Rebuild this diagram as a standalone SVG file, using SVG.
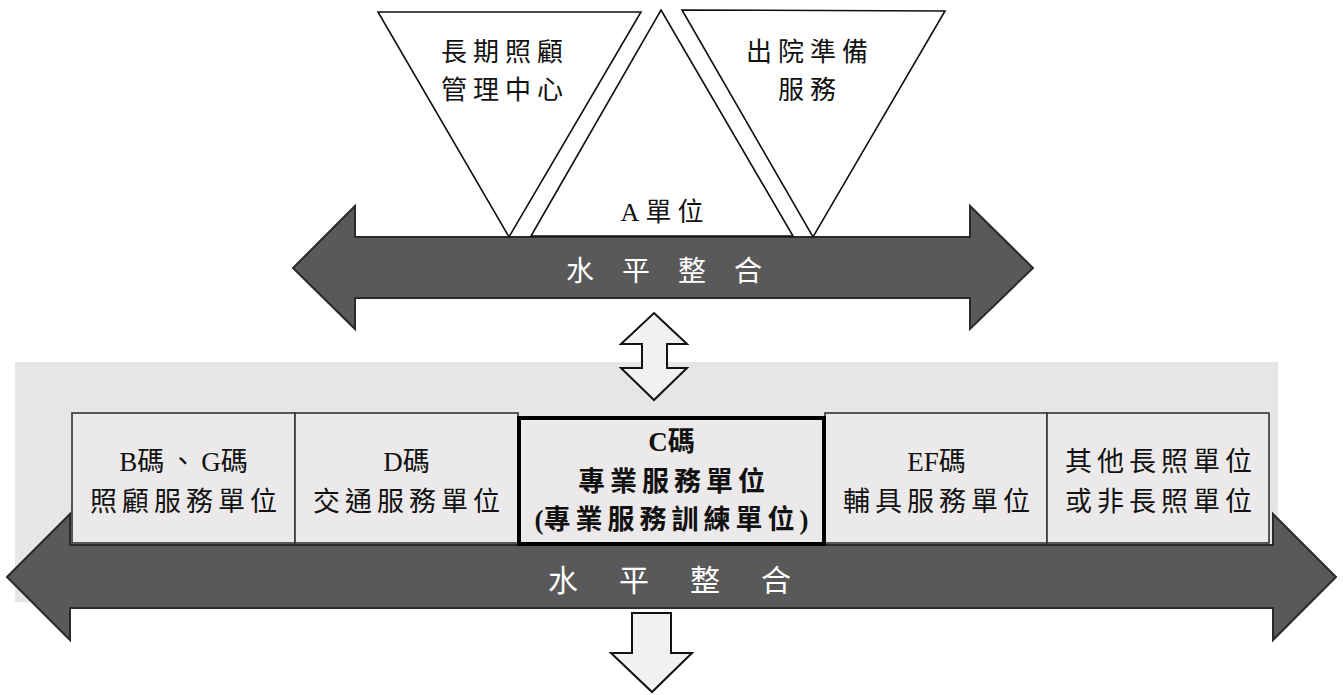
<svg xmlns="http://www.w3.org/2000/svg" width="1343" height="695" viewBox="0 0 1343 695">
<style>
.tri{fill:#ffffff;stroke:#111;stroke-width:1.6;stroke-linejoin:miter}
.big{fill:#595959;stroke:#2a2a2a;stroke-width:2}
.small{fill:#f1f1f1;stroke:#111;stroke-width:2;stroke-linejoin:miter}
.box{fill:#ebe9e9;stroke:#333;stroke-width:1.6}
.cbox{fill:#ebe9e9;stroke:#000;stroke-width:4}
.t{font-family:"Liberation Serif","Noto Sans CJK TC",serif;font-size:26px;fill:#111;text-anchor:middle;dominant-baseline:central}
.bt{font-family:"Liberation Serif","Noto Sans CJK TC",serif;font-size:27px;fill:#111;text-anchor:middle;dominant-baseline:central;letter-spacing:5px}
.bold{font-weight:bold}
.tight{letter-spacing:0}
.w{font-family:"Liberation Serif","Noto Sans CJK TC",serif;fill:#fff;text-anchor:middle;dominant-baseline:central}
</style>
<rect x="15" y="362" width="1263" height="240" fill="#e7e5e5"/>
<g id="connectors">
<path id="topBar" class="big" d="M293,268 L355,206 L355,237 L970,237 L970,206 L1033,268 L970,329 L970,298 L355,298 L355,329 Z"/>
<path id="bottomBar" class="big" d="M7,577 L70,514 L70,545 L1273,545 L1273,514 L1336,577 L1273,640 L1273,608 L70,608 L70,640 Z"/>
<path id="doubleArrow" class="small" d="M654,313 L687,344 L667,344 L667,368 L687,368 L654,400 L621,368 L642,368 L642,344 L621,344 Z"/>
<path id="downArrow" class="small" d="M632,613 L671,613 L671,653 L692,653 L652,692 L611,653 L632,653 Z"/>
</g>
<g id="ltc-center">
<polygon class="tri" points="378,12 641,12 509,237"/>
<text class="t" x="505" y="52" letter-spacing="6">長期照顧</text>
<text class="t" x="505" y="90" letter-spacing="6">管理中心</text>
</g>
<g id="a-unit">
<polygon class="tri" points="661,10 793,236 531,236"/>
<text class="t" x="665" y="212" letter-spacing="6">A單位</text>
</g>
<g id="discharge">
<polygon class="tri" points="682,10 945,11 813,237"/>
<text class="t" x="810" y="52" letter-spacing="6">出院準備</text>
<text class="t" x="810" y="90" letter-spacing="6">服務</text>
</g>
<text class="w" x="678" y="271" font-size="28" letter-spacing="28">水平整合</text>
<g id="bg-unit">
<rect class="box" x="72" y="413" width="223" height="130"/>
<text class="bt" x="186" y="462"><tspan class="tight">B</tspan>碼、<tspan class="tight">G</tspan>碼</text>
<text class="bt" x="186" y="502">照顧服務單位</text>
</g>
<g id="d-unit">
<rect class="box" x="295" y="413" width="223" height="130"/>
<text class="bt" x="409" y="462"><tspan class="tight">D</tspan>碼</text>
<text class="bt" x="409" y="502">交通服務單位</text>
</g>
<g id="ef-unit">
<rect class="box" x="825" y="413" width="222" height="130"/>
<text class="bt" x="939" y="462"><tspan class="tight">EF</tspan>碼</text>
<text class="bt" x="939" y="502">輔具服務單位</text>
</g>
<g id="other-unit">
<rect class="box" x="1047" y="413" width="222" height="130"/>
<text class="bt" x="1161" y="462">其他長照單位</text>
<text class="bt" x="1161" y="502">或非長照單位</text>
</g>
<g id="c-unit">
<rect class="cbox" x="519" y="418" width="305" height="126"/>
<text class="bt bold" x="674" y="442"><tspan class="tight">C</tspan>碼</text>
<text class="bt bold" x="674" y="482">專業服務單位</text>
<text class="bt bold" x="674" y="520"><tspan class="tight">(</tspan>專業服務訓練單位)</text>
</g>
<text class="w" x="690" y="580" font-size="30" letter-spacing="41">水平整合</text>
</svg>
